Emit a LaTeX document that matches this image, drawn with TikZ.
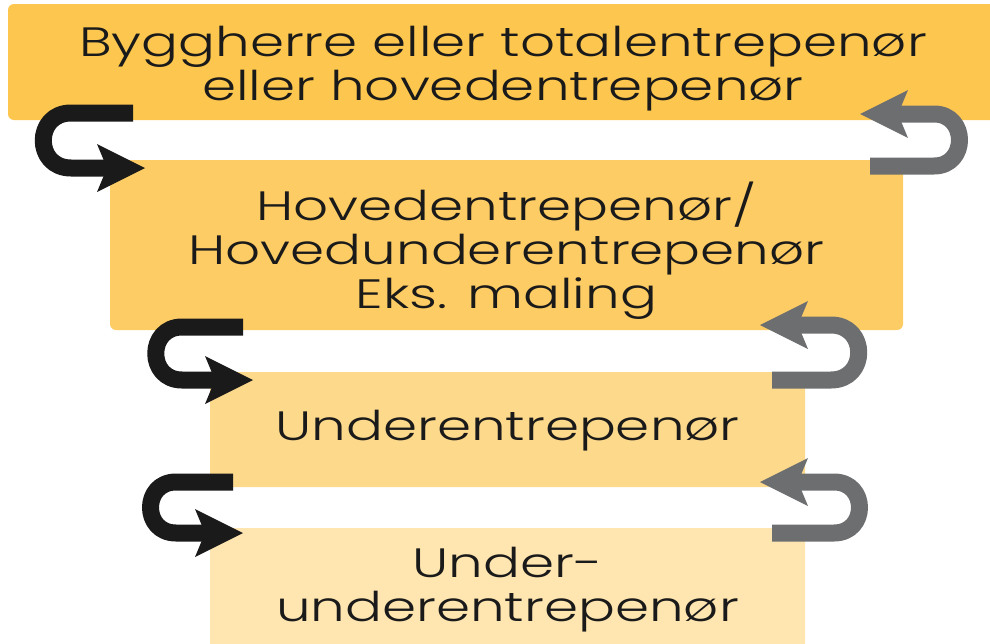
\documentclass[tikz,border=0pt]{standalone}
\usepackage{fontspec}
\setmainfont{Poppins}[UprightFont=* Light,FakeStretch=1.335]
\usetikzlibrary{arrows.meta}
\definecolor{boxa}{HTML}{FDC74F}
\definecolor{boxb}{HTML}{FDCC64}
\definecolor{boxc}{HTML}{FDD98C}
\definecolor{boxd}{HTML}{FFE6B0}
\definecolor{hookblack}{HTML}{1A1A1A}
\definecolor{hookgray}{HTML}{6D6E70}
\definecolor{txt}{HTML}{1A1A1A}
\begin{document}
\begin{tikzpicture}[x=0.5pt,y=-0.5pt,line join=round,
    lvl/.style={rectangle,rounded corners=3pt,inner sep=0pt},
    lvltext/.style={align=center,inner sep=0pt,
      font=\fontsize{20.5}{22}\selectfont,text=txt},
    hookb/.style={draw=hookblack,line width=8.5pt,
      -{Stealth[length=24pt,width=24pt,inset=5pt,line width=0pt]}},
    hookg/.style={hookb,draw=hookgray}]
  \useasboundingbox (0,0) rectangle (990,643);
  % Nivå 1
  \node[lvl,fill=boxa,minimum width=495pt,minimum height=58pt] (bygg) at (503,62) {};
  \node[lvltext] (byggtxt) at (503,69)
    {Byggherre eller totalentrepenør\\eller hovedentrepenør};
  % Nivå 2
  \node[lvl,fill=boxb,minimum width=396.5pt,minimum height=85pt] (hoved) at (506.5,245) {};
  \node[lvltext] (hovedtxt) at (506.5,251)
    {Hovedentrepenør/\\Hovedunderentrepenør\\Eks. maling};
  % Nivå 3
  \node[lvl,fill=boxc,minimum width=297.5pt,minimum height=57.5pt] (under) at (507.5,429.5) {};
  \node[lvltext] (undertxt) at (507.5,431) {Underentrepenør};
  % Nivå 4
  \node[lvl,fill=boxd,minimum width=297.5pt,minimum height=61pt] (uunder) at (507.5,589) {};
  \node[lvltext] (uundertxt) at (507.5,590) {Under-\\underentrepenør};
  % Piler ned (svarte)
  \coordinate (ned1s) at (133,113);  \coordinate (ned1t) at (145,168);
  \coordinate (ned2s) at (243,327);  \coordinate (ned2t) at (253,380);
  \coordinate (ned3s) at (233,482);  \coordinate (ned3t) at (243,533);
  \draw[hookb] (ned1s) -- (71,113) .. controls +(-37,0) and +(-37,0) .. (71,168) -- (ned1t);
  \draw[hookb] (ned2s) -- (182,327) .. controls +(-35,0) and +(-35,0) .. (182,380) -- (ned2t);
  \draw[hookb] (ned3s) -- (176,482) .. controls +(-34,0) and +(-34,0) .. (176,533) -- (ned3t);
  % Piler opp (grå)
  \coordinate (opp1s) at (870,166);  \coordinate (opp1t) at (860,114);
  \coordinate (opp2s) at (772,380);  \coordinate (opp2t) at (760,325);
  \coordinate (opp3s) at (772,533);  \coordinate (opp3t) at (760,482);
  \draw[hookg] (opp1s) -- (934,166) .. controls +(34,0) and +(34,0) .. (934,114) -- (opp1t);
  \draw[hookg] (opp2s) -- (831,380) .. controls +(37,0) and +(37,0) .. (831,325) -- (opp2t);
  \draw[hookg] (opp3s) -- (834,533) .. controls +(34,0) and +(34,0) .. (834,482) -- (opp3t);
\end{tikzpicture}
\end{document}
